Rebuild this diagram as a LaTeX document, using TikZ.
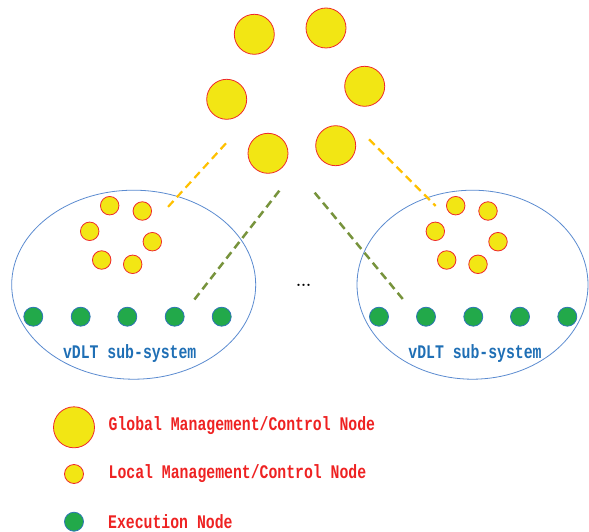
\documentclass[tikz,border=0pt]{standalone}
\usepackage{fontspec}
\setmonofont{Liberation Mono}
\definecolor{yfill}{HTML}{F2E614}
\definecolor{rline}{HTML}{EE2A2A}
\definecolor{gfill}{HTML}{22A94A}
\definecolor{gline}{HTML}{2E75B6}
\definecolor{ell}{HTML}{5B8BD0}
\definecolor{orangedash}{HTML}{FFC000}
\definecolor{olivedash}{HTML}{77933C}
\definecolor{lblblue}{HTML}{1F6FB5}
\definecolor{lblred}{HTML}{EE2222}
\newcommand{\tallt}[1]{\scalebox{1}[1.3]{#1}}
\tikzset{
  gnode/.style={circle,draw=rline,fill=yfill,line width=0.8pt,minimum size=40pt,inner sep=0pt},
  lnode/.style={circle,draw=rline,fill=yfill,line width=0.8pt,minimum size=18.5pt,inner sep=0pt},
  enode/.style={circle,draw=gline,fill=gfill,line width=0.8pt,minimum size=19pt,inner sep=0pt},
  subsys/.style={ellipse,draw=ell,line width=0.8pt,inner sep=0pt},
  odash/.style={draw=orangedash,line width=2.2pt,dash pattern=on 8pt off 5pt},
  gdash/.style={draw=olivedash,line width=2.5pt,dash pattern=on 8pt off 5pt},
  sublbl/.style={text=lblblue,font=\fontsize{14.8}{16}\selectfont\ttfamily\bfseries,inner sep=0pt},
  leglbl/.style={text=lblred,font=\fontsize{14.8}{16}\selectfont\ttfamily\bfseries,inner sep=0pt,anchor=west}
}
\usetikzlibrary{shapes.geometric}
\begin{document}
\begin{tikzpicture}[x=1pt,y=-1pt]
\useasboundingbox (0,0) rectangle (589,532);
% ellipses
\node[subsys,minimum width=244pt,minimum height=189pt] (E1) at (133.7,284.7) {};
\node[subsys,minimum width=231pt,minimum height=189pt] (E2) at (472.5,284.7) {};
% global nodes
\node[gnode] (G1) at (254.3,34.3) {};
\node[gnode] (G2) at (326,28) {};
\node[gnode] (G3) at (226.7,99.3) {};
\node[gnode] (G4) at (364.7,86.3) {};
\node[gnode] (G5) at (268,153.3) {};
\node[gnode] (G6) at (335.7,145.7) {};
% local nodes left
\node[lnode] (L1) at (109.7,205.7) {};
\node[lnode] (L2) at (142.3,211) {};
\node[lnode] (L3) at (89.7,231.3) {};
\node[lnode] (L4) at (152.3,241.7) {};
\node[lnode] (L5) at (101.7,260) {};
\node[lnode] (L6) at (132.7,264.3) {};
% local nodes right
\node[lnode] (R1) at (455.7,205.7) {};
\node[lnode] (R2) at (488,211) {};
\node[lnode] (R3) at (435.3,231.3) {};
\node[lnode] (R4) at (498,241.7) {};
\node[lnode] (R5) at (446.7,260) {};
\node[lnode] (R6) at (478,264.3) {};
% execution nodes
\foreach \x [count=\i] in {33.3,80.7,127.3,174.7,221.7}{
  \node[enode] (EL\i) at (\x,316.7) {};
}
\foreach \x [count=\i] in {379,426,473.3,520,567.3}{
  \node[enode] (ER\i) at (\x,316.7) {};
}
% dashed connectors
\coordinate (oa1) at (226,143.3);
\coordinate (ob1) at (167.3,207.7);
\coordinate (oa2) at (369,139.3);
\coordinate (ob2) at (435.7,206);
\coordinate (ga1) at (279.3,190.7);
\coordinate (gb1) at (192.7,301.7);
\coordinate (ga2) at (314.7,192.7);
\coordinate (gb2) at (405,301.7);
\draw[odash] (oa1) -- (ob1);
\draw[odash] (oa2) -- (ob2);
\draw[gdash] (ga1) -- (gb1);
\draw[gdash] (ga2) -- (gb2);
% labels
\node[sublbl] (S1) at (129.7,353.3) {\tallt{vDLT sub-system}};
\node[sublbl] (S2) at (475,353.3) {\tallt{vDLT sub-system}};
\node[font=\fontsize{16}{16}\selectfont\bfseries,inner sep=0pt] (dots) at (303.7,285.5) {...};
% legend
\node[gnode,minimum size=41pt] (LG) at (74,427.3) {};
\node[lnode,minimum size=19pt] (LL) at (74,474) {};
\node[enode] (LE) at (74,521.7) {};
\node[leglbl] (T1) at (108.5,426) {\tallt{Global Management/Control Node}};
\node[leglbl] (T2) at (108.5,474) {\tallt{Local Management/Control Node}};
\node[leglbl] (T3) at (108,521.7) {\tallt{Execution Node}};
\end{tikzpicture}
\end{document}
